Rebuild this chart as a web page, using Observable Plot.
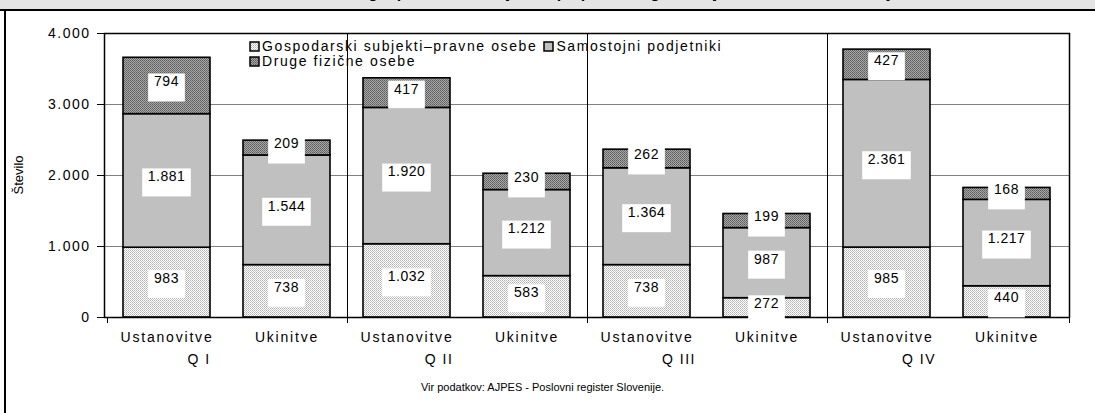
<!DOCTYPE html>
<html>
<head>
<meta charset="utf-8">
<script src="https://cdn.jsdelivr.net/npm/d3@7"></script>
<script src="https://cdn.jsdelivr.net/npm/@observablehq/plot@0.6"></script>
<style>
  body { margin: 0; background: #fff; font-family: "Liberation Sans", Arial, sans-serif; }
  #wrap { position: relative; width: 1095px; height: 413px; overflow: hidden; background: #fff; }
  #titlebar { position: absolute; left: 0; top: 0; width: 1095px; height: 9px; background: #e4e4e4; border-bottom: 2px solid #000; overflow: hidden; }
  #titlebar span { position: absolute; left: 0; width: 1095px; text-align: center; top: -16px; font-weight: bold; font-size: 16px; line-height: 18px; white-space: nowrap; }
  #frameLeft { position: absolute; left: 4px; top: 9px; width: 2px; height: 404px; background: #000; }
  #chart { position: absolute; left: 0; top: 0; }
  #legend { position: absolute; left: 249px; top: 39px; font-size: 14px; letter-spacing: 1.6px; line-height: 15px; color: #000; }
  #legend .row { display: flex; align-items: center; height: 15px; white-space: nowrap; }
  #legend svg { margin-right: 2px; }
  #ylabel { position: absolute; left: 18px; top: 175px; transform: translate(-50%, -50%) rotate(-90deg); font-size: 13px; white-space: nowrap; }
  #caption { position: absolute; left: 0; width: 1085px; top: 381px; text-align: center; font-size: 11px; }
  #chart g[aria-label="y-axis tick label"] text { letter-spacing: 1.5px; }
  #chart g[aria-label="x-axis tick label"] text { letter-spacing: 1.8px; }
</style>
</head>
<body>
<svg width="0" height="0" style="position:absolute">
  <defs>
    <pattern id="pG" patternUnits="userSpaceOnUse" width="2" height="2">
      <rect width="2" height="2" fill="#ffffff"/>
      <rect x="0" y="0" width="1" height="1" fill="#b0b0b0"/>
      <rect x="1" y="1" width="1" height="1" fill="#c8c8c8"/>
    </pattern>
    <pattern id="pD" patternUnits="userSpaceOnUse" width="2" height="2">
      <rect width="2" height="2" fill="#a8a8a8"/>
      <rect x="0" y="0" width="1" height="1" fill="#5a5a5a"/>
      <rect x="1" y="1" width="1" height="1" fill="#6e6e6e"/>
    </pattern>
  </defs>
</svg>
<div id="wrap">
  <div id="chart"></div>
  <div id="titlebar"><span>Ustanovitve in ukinitve gospodarskih subjektov po pravnoorganizacijskih oblikah in četrtletjih</span></div>
  <div id="frameLeft"></div>
  <div id="legend"></div>
  <div id="ylabel">Število</div>
  <div id="caption">Vir podatkov: AJPES - Poslovni register Slovenije.</div>
</div>
<script>
// ---- data ----
const quarters = ["Q I", "Q II", "Q III", "Q IV"];
const events = ["Ustanovitve", "Ukinitve"];
const series = ["Gospodarski subjekti–pravne osebe", "Samostojni podjetniki", "Druge fizične osebe"];
const gospodarski = [983, 738, 1032, 583, 738, 272, 985, 440];
const samostojni = [1881, 1544, 1920, 1212, 1364, 987, 2361, 1217];
const druge = [794, 209, 417, 230, 262, 199, 427, 168];
const yTicks = [0, 1000, 2000, 3000, 4000];
const seriesFills = ["url(#pG)", "#c0c0c0", "url(#pD)"];

// ---- build table ----
const fmt = v => d3.format(",")(v).replace(/,/g, ".");
const keys = quarters.flatMap(q => events.map(e => q + "|" + e));
const seriesValues = [gospodarski, samostojni, druge];
const segments = [];
keys.forEach((k, i) => {
  let acc = 0;
  series.forEach((s, j) => {
    const v = seriesValues[j][i];
    segments.push({key: k, series: s, value: v, y1: acc, y2: acc + v});
    acc += v;
  });
});

// group separators (between quarters) and below-axis ticks
function separators(index, scales, values, dims) {
  const {x} = scales;
  const gap = x.step() - x.bandwidth();
  const xs = quarters.map(q => x(q + "|" + events[0]) - gap / 2);
  xs.push(dims.width - dims.marginRight);
  const g = d3.create("svg:g");
  xs.forEach((xx, i) => {
    const top = (i === 0 || i === xs.length - 1) ? dims.height - dims.marginBottom : dims.marginTop;
    g.append("line")
      .attr("x1", Math.round(xx) + 0.5).attr("x2", Math.round(xx) + 0.5)
      .attr("y1", top).attr("y2", dims.height - dims.marginBottom + 6)
      .attr("stroke", "#000").attr("stroke-width", 1);
  });
  return g.node();
}

// value labels with white boxes
function labels(index, scales, values, dims) {
  const {x, y} = scales;
  const bw = x.bandwidth();
  const g = d3.create("svg:g").attr("font-family", "Liberation Sans, Arial, sans-serif").attr("font-size", 14);
  for (const d of segments) {
    const cx = x(d.key) + bw / 2;
    const cy = y((d.y1 + d.y2) / 2);
    const t = fmt(d.value);
    const nd = t.replace(/\./g, "").length;
    const w = nd * 7.9 + (t.includes(".") ? 4 : 0) + 13;
    g.append("rect").attr("x", cx - w / 2).attr("y", cy - 12).attr("width", w).attr("height", 28).attr("fill", "#fff");
    g.append("text").attr("x", cx).attr("y", cy - 4).attr("text-anchor", "middle")
      .attr("dy", "0.35em").attr("letter-spacing", "0.5px").text(t);
  }
  return g.node();
}

const chart = Plot.plot({
  width: 1095,
  height: 413,
  marginLeft: 104,
  marginRight: 26,
  marginTop: 33,
  marginBottom: 96,
  style: {fontFamily: "Liberation Sans, Arial, sans-serif", fontSize: "14px", background: "transparent", color: "#000"},
  x: {domain: keys, paddingInner: 0.278, paddingOuter: 0.139},
  y: {domain: [0, 4000]},
  color: {type: "ordinal", domain: series, range: seriesFills},
  marks: [
    Plot.ruleY([1000, 2000, 3000], {stroke: "#808080", strokeWidth: 1}),
    separators,
    Plot.barY(segments, {x: "key", y1: "y1", y2: "y2", fill: "series", stroke: "#000", strokeWidth: 1.6}),
    Plot.frame({stroke: "#000", strokeWidth: 1.5}),
    Plot.axisY(yTicks, {tickSize: 7, tickPadding: 7, tickFormat: fmt, label: null, fontSize: 14}),
    Plot.axisX({tickSize: 0, tickPadding: 15, tickFormat: k => k.split("|")[1], label: null, fontSize: 14}),
    Plot.text(quarters, {x: q => q + "|" + events[0], frameAnchor: "bottom", dy: 42, dx: 32, text: d => d, fontSize: 14, lineAnchor: "middle"}),
    labels
  ]
});
document.getElementById("chart").appendChild(chart);
chart.querySelectorAll("text").forEach(t => {
  if (quarters.includes(t.textContent)) t.setAttribute("letter-spacing", "1.5px");
});

// legend
const legend = d3.select("#legend");
const rows = [[0, 1], [2]];
rows.forEach(r => {
  const row = legend.append("div").attr("class", "row");
  r.forEach((si, k) => {
    const sw = row.append("svg").attr("width", 11).attr("height", 11)
      .style("margin-left", k > 0 ? "6px" : "0px");
    sw.append("rect").attr("x", 1).attr("y", 1).attr("width", 9).attr("height", 9)
      .attr("fill", seriesFills[si]).attr("stroke", "#000").attr("stroke-width", 1.5);
    row.append("span").text(series[si]);
  });
});
</script>
</body>
</html>
